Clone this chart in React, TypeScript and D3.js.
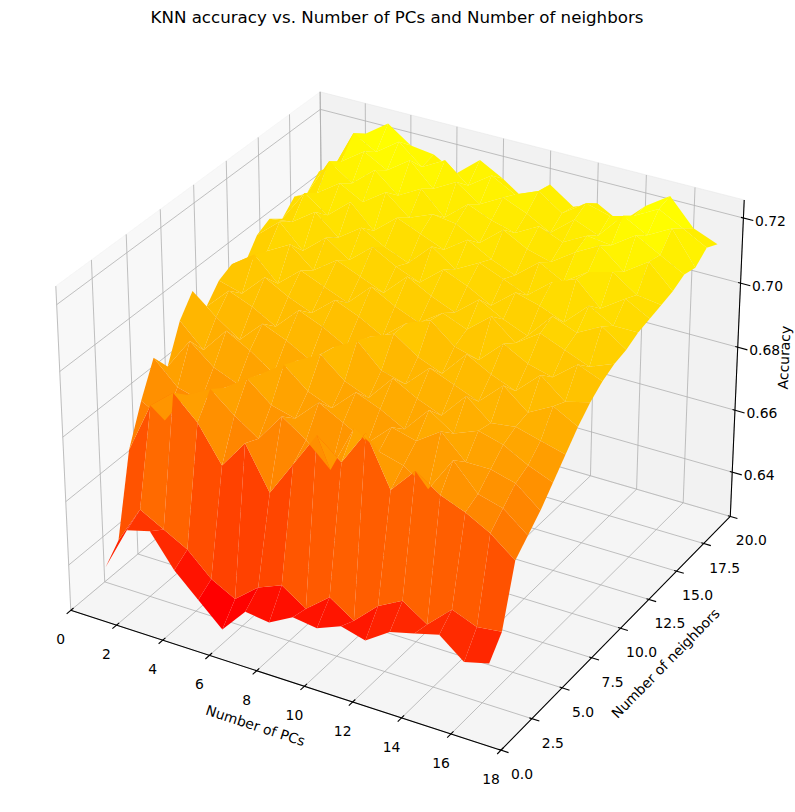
import React from 'react';
import * as d3 from 'd3';

// grid of the surface
const PCS = [1, 2, 3, 4, 5, 6, 7, 8, 9, 10, 11, 12, 13, 14, 15, 16, 17];
const NEIGHBORS = [1, 2, 3, 4, 5, 6, 7, 8, 9, 10, 11, 12, 13, 14, 15, 16, 17, 18, 19, 20];

// accuracy, one row per number of neighbors, one column per number of PCs
const ACCURACY = [
  [0.638, 0.652, 0.654, 0.644, 0.637, 0.630, 0.638, 0.637, 0.641, 0.640, 0.643, 0.641, 0.646, 0.648, 0.650, 0.644, 0.646],
  [0.643, 0.655, 0.651, 0.647, 0.640, 0.636, 0.642, 0.645, 0.640, 0.646, 0.641, 0.648, 0.652, 0.647, 0.654, 0.651, 0.652],
  [0.668, 0.684, 0.690, 0.683, 0.672, 0.681, 0.668, 0.679, 0.690, 0.684, 0.695, 0.680, 0.688, 0.683, 0.680, 0.676, 0.670],
  [0.680, 0.676, 0.686, 0.690, 0.684, 0.679, 0.688, 0.683, 0.676, 0.691, 0.686, 0.684, 0.679, 0.690, 0.682, 0.680, 0.674],
  [0.690, 0.683, 0.681, 0.687, 0.692, 0.686, 0.684, 0.691, 0.687, 0.683, 0.690, 0.688, 0.693, 0.686, 0.686, 0.684, 0.678],
  [0.684, 0.694, 0.688, 0.685, 0.690, 0.695, 0.689, 0.686, 0.693, 0.690, 0.686, 0.694, 0.689, 0.692, 0.690, 0.686, 0.683],
  [0.695, 0.688, 0.696, 0.692, 0.687, 0.693, 0.697, 0.691, 0.688, 0.696, 0.692, 0.689, 0.697, 0.691, 0.692, 0.690, 0.688],
  [0.701, 0.695, 0.690, 0.697, 0.694, 0.690, 0.696, 0.700, 0.693, 0.691, 0.698, 0.695, 0.692, 0.699, 0.693, 0.697, 0.693],
  [0.693, 0.700, 0.697, 0.693, 0.700, 0.697, 0.693, 0.698, 0.701, 0.696, 0.693, 0.701, 0.697, 0.694, 0.701, 0.695, 0.697],
  [0.698, 0.696, 0.703, 0.699, 0.696, 0.702, 0.699, 0.695, 0.701, 0.704, 0.698, 0.696, 0.703, 0.699, 0.697, 0.703, 0.700],
  [0.700, 0.705, 0.698, 0.704, 0.701, 0.698, 0.705, 0.701, 0.698, 0.703, 0.700, 0.706, 0.700, 0.705, 0.702, 0.699, 0.702],
  [0.697, 0.703, 0.707, 0.701, 0.706, 0.703, 0.700, 0.707, 0.703, 0.700, 0.706, 0.702, 0.699, 0.707, 0.704, 0.708, 0.703],
  [0.703, 0.709, 0.702, 0.708, 0.703, 0.709, 0.705, 0.702, 0.708, 0.705, 0.701, 0.707, 0.705, 0.702, 0.709, 0.705, 0.705],
  [0.705, 0.706, 0.711, 0.705, 0.710, 0.706, 0.703, 0.710, 0.705, 0.709, 0.706, 0.703, 0.709, 0.712, 0.705, 0.710, 0.706],
  [0.702, 0.712, 0.707, 0.713, 0.706, 0.712, 0.709, 0.706, 0.711, 0.707, 0.704, 0.710, 0.706, 0.711, 0.713, 0.708, 0.707],
  [0.706, 0.709, 0.714, 0.710, 0.715, 0.709, 0.712, 0.711, 0.707, 0.713, 0.709, 0.707, 0.712, 0.716, 0.710, 0.715, 0.708],
  [0.704, 0.716, 0.711, 0.717, 0.711, 0.715, 0.708, 0.714, 0.711, 0.709, 0.713, 0.710, 0.714, 0.713, 0.718, 0.714, 0.710],
  [0.708, 0.713, 0.718, 0.714, 0.719, 0.712, 0.716, 0.711, 0.715, 0.712, 0.708, 0.714, 0.711, 0.719, 0.715, 0.719, 0.709],
  [0.705, 0.719, 0.715, 0.720, 0.714, 0.718, 0.712, 0.717, 0.713, 0.716, 0.711, 0.716, 0.714, 0.716, 0.720, 0.716, 0.712],
  [0.707, 0.716, 0.721, 0.716, 0.715, 0.711, 0.717, 0.713, 0.708, 0.715, 0.710, 0.713, 0.709, 0.716, 0.721, 0.713, 0.710],
];

const X_TICKS = [0, 2, 4, 6, 8, 10, 12, 14, 16, 18];
const Y_TICKS = [0, 2.5, 5, 7.5, 10, 12.5, 15, 17.5, 20];
const Z_TICKS = [0.64, 0.66, 0.68, 0.70, 0.72];
const Y_TICK_LABELS = ['0.0', '2.5', '5.0', '7.5', '10.0', '12.5', '15.0', '17.5', '20.0'];
const Z_TICK_LABELS = ['0.64', '0.66', '0.68', '0.70', '0.72'];

const X_LIM = [0, 18];
const Y_LIM = [0, 20];
const Z_LIM = [0.6255, 0.7255];

const W = 795;
const H = 812;
const FONT = 'DejaVu Sans, sans-serif';

// matplotlib-style camera: elev 30, azim -60, dist 10, focal length 1
const ELEV = 30;
const AZIM = -60;
const DIST = 10;

const boxNorm = Math.hypot(4, 4, 3);
const BOX = [4, 4, 3].map(v => (v * 1.8294640721620434) / boxNorm);

const wx = d3.scaleLinear().domain(X_LIM).range([0, BOX[0]]);
const wy = d3.scaleLinear().domain(Y_LIM).range([0, BOX[1]]);
const wz = d3.scaleLinear().domain(Z_LIM).range([0, BOX[2]]);

const el = (ELEV * Math.PI) / 180;
const az = (AZIM * Math.PI) / 180;
const viewDir = [Math.cos(el) * Math.cos(az), Math.cos(el) * Math.sin(az), Math.sin(el)];
const center = BOX.map(v => v / 2);
const eye = center.map((c, i) => c + DIST * viewDir[i]);

const cross = (a, b) => [a[1] * b[2] - a[2] * b[1], a[2] * b[0] - a[0] * b[2], a[0] * b[1] - a[1] * b[0]];
const dot = (a, b) => a[0] * b[0] + a[1] * b[1] + a[2] * b[2];
const unit = a => {
  const n = Math.hypot(a[0], a[1], a[2]);
  return a.map(c => c / n);
};

const vw = unit(viewDir);
const vu = unit(cross([0, 0, 1], vw));
const vv = cross(vw, vu);

// 2D view limits of the 3D axes mapped to pixels
const px = d3.scaleLinear().domain([-0.095, 0.09]).range([-3.4, 794.6]);
const py = d3.scaleLinear().domain([-0.095, 0.09]).range([815.6, 17.6]);

function project(x, y, z) {
  const p = [wx(x), wy(y), wz(z)];
  const d = p.map((c, i) => c - eye[i]);
  const xv = dot(vu, d);
  const yv = dot(vv, d);
  const zv = dot(vw, d);
  return { x: px(xv / -zv), y: py(yv / -zv), depth: DIST / zv };
}

const line = d3.line().x(d => d.x).y(d => d.y);
const poly = pts => line(pts) + 'Z';

const autumn = d3.interpolateRgb('#ff0000', '#ffff00');

const [xlo, xhi] = X_LIM;
const [ylo, yhi] = Y_LIM;
const [zlo, zhi] = Z_LIM;

function buildQuads() {
  const quads = [];
  for (let i = 0; i < NEIGHBORS.length - 1; i++) {
    for (let j = 0; j < PCS.length - 1; j++) {
      const corners = [
        [PCS[j], NEIGHBORS[i], ACCURACY[i][j]],
        [PCS[j + 1], NEIGHBORS[i], ACCURACY[i][j + 1]],
        [PCS[j + 1], NEIGHBORS[i + 1], ACCURACY[i + 1][j + 1]],
        [PCS[j], NEIGHBORS[i + 1], ACCURACY[i + 1][j]],
      ];
      const pts = corners.map(c => project(c[0], c[1], c[2]));
      quads.push({
        key: `${i}-${j}`,
        pts,
        avgZ: d3.mean(corners, c => c[2]),
        depth: d3.mean(pts, p => p.depth),
      });
    }
  }
  // far to near, like Poly3DCollection's average z-sort
  quads.sort((a, b) => b.depth - a.depth);
  return quads;
}

const App = () => {
  const quads = buildQuads();
  const color = d3.scaleLinear().domain(d3.extent(quads, q => q.avgZ)).range([0, 1]);

  const panes = [
    { fill: 'rgba(242,242,242,0.5)', pts: [[xlo, ylo, zlo], [xlo, yhi, zlo], [xlo, yhi, zhi], [xlo, ylo, zhi]] },
    { fill: 'rgba(230,230,230,0.5)', pts: [[xlo, yhi, zlo], [xhi, yhi, zlo], [xhi, yhi, zhi], [xlo, yhi, zhi]] },
    { fill: 'rgba(236,236,236,0.5)', pts: [[xlo, ylo, zlo], [xhi, ylo, zlo], [xhi, yhi, zlo], [xlo, yhi, zlo]] },
  ];

  const grid = [
    ...X_TICKS.map(x => [[x, ylo, zlo], [x, yhi, zlo], [x, yhi, zhi]]),
    ...Y_TICKS.map(y => [[xhi, y, zlo], [xlo, y, zlo], [xlo, y, zhi]]),
    ...Z_TICKS.map(z => [[xlo, ylo, z], [xlo, yhi, z], [xhi, yhi, z]]),
  ];

  const p3 = c => project(c[0], c[1], c[2]);
  const xa0 = project(xlo, ylo, zlo);
  const xa1 = project(xhi, ylo, zlo);
  const ya1 = project(xhi, yhi, zlo);
  const za1 = project(xhi, yhi, zhi);
  const ang = (a, b) => (Math.atan2(b.y - a.y, b.x - a.x) * 180) / Math.PI;

  const xLabelAt = project((xlo + xhi) / 2, ylo, zlo);
  const yLabelAt = project(xhi, (ylo + yhi) / 2, zlo);
  const zLabelAt = project(xhi, yhi, (zlo + zhi) / 2);

  return (
    <svg width={W} height={H} style={{ position: 'absolute', left: 0, top: 0, background: '#fff' }} fontFamily={FONT}>
      <text x={W / 2 - 0.5} y={23} textAnchor="middle" fontSize={16.67}>
        KNN accuracy vs. Number of PCs and Number of neighbors
      </text>

      {panes.map((p, i) => (
        <path key={`pane-${i}`} d={poly(p.pts.map(p3))} fill={p.fill} stroke={p.fill} strokeWidth={1} />
      ))}

      {grid.map((g, i) => (
        <path key={`grid-${i}`} d={line(g.map(p3))} fill="none" stroke="#b0b0b0" strokeWidth={0.8} />
      ))}

      {/* axis lines */}
      <path d={line([xa0, xa1])} stroke="#000" strokeWidth={1.05} fill="none" />
      <path d={line([xa1, ya1])} stroke="#000" strokeWidth={1.05} fill="none" />
      <path d={line([ya1, za1])} stroke="#000" strokeWidth={1.05} fill="none" />

      {/* x ticks */}
      {X_TICKS.map(x => {
        const a = project(x, ylo - 0.3, zlo);
        const b = project(x, ylo + 0.2, zlo);
        const t = project(x, ylo, zlo);
        return (
          <g key={`xt-${x}`}>
            <path d={line([a, b])} stroke="#000" strokeWidth={1.1} />
            <text x={t.x - 10} y={t.y + 29} textAnchor="middle" dominantBaseline="central" fontSize={13.9}>
              {x}
            </text>
          </g>
        );
      })}

      {/* y ticks */}
      {Y_TICKS.map((y, i) => {
        const a = project(xhi - 0.1, y, zlo);
        const b = project(xhi + 0.3, y, zlo);
        const t = project(xhi, y, zlo);
        return (
          <g key={`yt-${y}`}>
            <path d={line([a, b])} stroke="#000" strokeWidth={1.1} />
            <text x={t.x + 21} y={t.y + 24} textAnchor="middle" dominantBaseline="central" fontSize={13.9}>
              {Y_TICK_LABELS[i]}
            </text>
          </g>
        );
      })}

      {/* z ticks */}
      {Z_TICKS.map((z, i) => {
        const a = project(xhi - 0.1, yhi, z);
        const b = project(xhi + 0.4, yhi, z);
        const t = project(xhi, yhi, z);
        return (
          <g key={`zt-${z}`}>
            <path d={line([a, b])} stroke="#000" strokeWidth={1.1} />
            <text x={t.x + 27} y={t.y + 3} textAnchor="middle" dominantBaseline="central" fontSize={13.9}>
              {Z_TICK_LABELS[i]}
            </text>
          </g>
        );
      })}

      {/* axis labels */}
      <text
        transform={`translate(${xLabelAt.x - 25},${xLabelAt.y + 47}) rotate(${ang(xa0, xa1)})`}
        textAnchor="middle"
        dominantBaseline="central"
        fontSize={13.9}
      >
        Number of PCs
      </text>
      <text
        transform={`translate(${yLabelAt.x + 45},${yLabelAt.y + 35}) rotate(${ang(xa1, ya1)})`}
        textAnchor="middle"
        dominantBaseline="central"
        fontSize={13.9}
      >
        Number of neighbors
      </text>
      <text
        transform={`translate(${zLabelAt.x + 47},${zLabelAt.y - 4}) rotate(${ang(ya1, za1)})`}
        textAnchor="middle"
        dominantBaseline="central"
        fontSize={13.9}
      >
        Accuracy
      </text>

      {/* surface */}
      {quads.map(q => (
        <path key={q.key} d={poly(q.pts)} fill={autumn(color(q.avgZ))} />
      ))}
    </svg>
  );
};

export default App;
